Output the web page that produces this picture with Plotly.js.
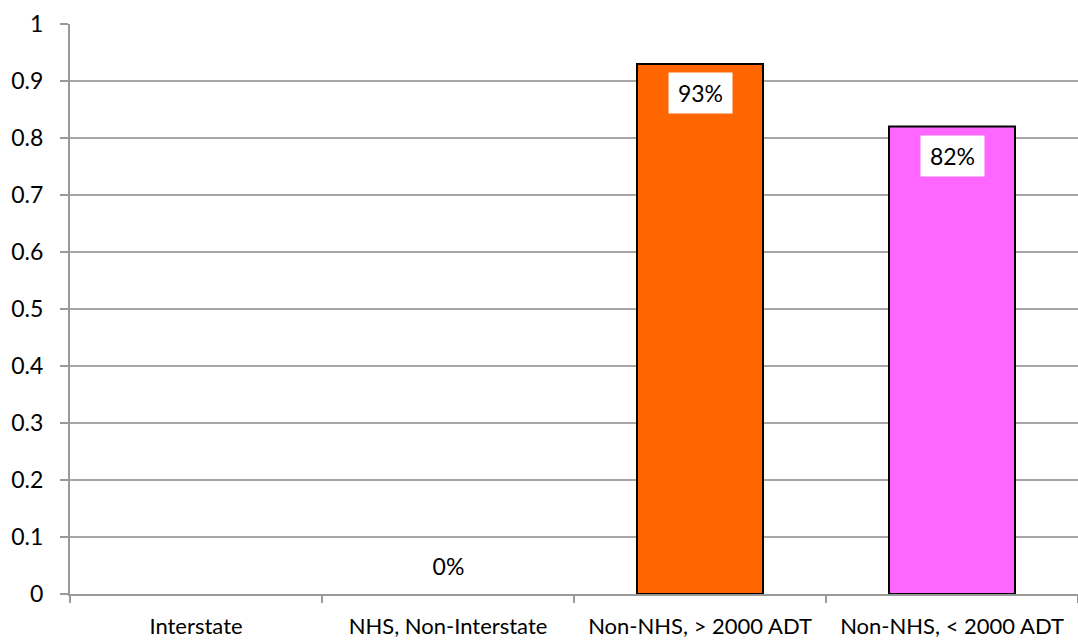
<!DOCTYPE html>
<html>
<head>
<meta charset="utf-8">
<script src="https://cdn.plot.ly/plotly-3.0.1.min.js"></script>
<style>html,body{margin:0;padding:0;background:#fff;}#chart{width:1078px;height:642px;}</style>
</head>
<body>
<div id="chart"></div>
<script>
var categories = ["Interstate", "NHS, Non-Interstate", "Non-NHS, > 2000 ADT", "Non-NHS, < 2000 ADT"];
var values = [null, 0, 0.93, 0.82];
var labels = ["", "0%", "93%", "82%"];
var barColors = ["#FF6600", "#FF6600", "#FF6600", "#FF66FF"];
var yTicks = [0, 0.1, 0.2, 0.3, 0.4, 0.5, 0.6, 0.7, 0.8, 0.9, 1];
var yTickText = ["0", "0.1", "0.2", "0.3", "0.4", "0.5", "0.6", "0.7", "0.8", "0.9", "1"];

var fontFam = "Lato, 'Open Sans', sans-serif";

var lineWidths = values.map(function (v) { return v ? 2 : 0; });

var trace = {
  type: "bar",
  x: categories,
  y: values,
  marker: {color: barColors, line: {color: "#000000", width: lineWidths}},
  hoverinfo: "none"
};

var annotations = [];
for (var i = 0; i < categories.length; i++) {
  if (values[i] === null || labels[i] === "") continue;
  var isZero = values[i] === 0;
  annotations.push({
    x: categories[i],
    y: values[i],
    xref: "x", yref: "y",
    text: labels[i],
    showarrow: false,
    yanchor: isZero ? "bottom" : "top",
    yshift: isZero ? 7 : -8,
    bgcolor: "#ffffff",
    width: 47,
    height: 24,
    borderpad: 8,
    font: {family: fontFam, size: 23, color: "#000000"}
  });
}

var layout = {
  width: 1078,
  height: 642,
  margin: {l: 70, r: 0, t: 24, b: 48},
  paper_bgcolor: "#ffffff",
  plot_bgcolor: "#ffffff",
  showlegend: false,
  bargap: 0.5,
  font: {family: fontFam, size: 23, color: "#000000"},
  xaxis: {
    type: "category",
    tickson: "boundaries",
    ticks: "outside",
    ticklen: 7,
    tickwidth: 2,
    tickcolor: "#999999",
    showline: true,
    linecolor: "#999999",
    linewidth: 2,
    showgrid: false,
    zeroline: false,
    ticklabelstandoff: 12,
    tickfont: {family: fontFam, size: 22, color: "#000000"},
    range: [-0.5, 3.5],
    fixedrange: true
  },
  yaxis: {
    range: [0, 1],
    tickvals: yTicks,
    ticktext: yTickText,
    ticks: "outside",
    ticklen: 8,
    tickwidth: 2,
    tickcolor: "#999999",
    showline: true,
    linecolor: "#999999",
    linewidth: 2,
    showgrid: true,
    gridcolor: "#a6a6a6",
    gridwidth: 2,
    zeroline: false,
    ticklabelstandoff: 12,
    tickfont: {family: fontFam, size: 23, color: "#000000"},
    fixedrange: true
  },
  annotations: annotations
};

Plotly.newPlot("chart", [trace], layout, {displayModeBar: false, staticPlot: true});
</script>
</body>
</html>
